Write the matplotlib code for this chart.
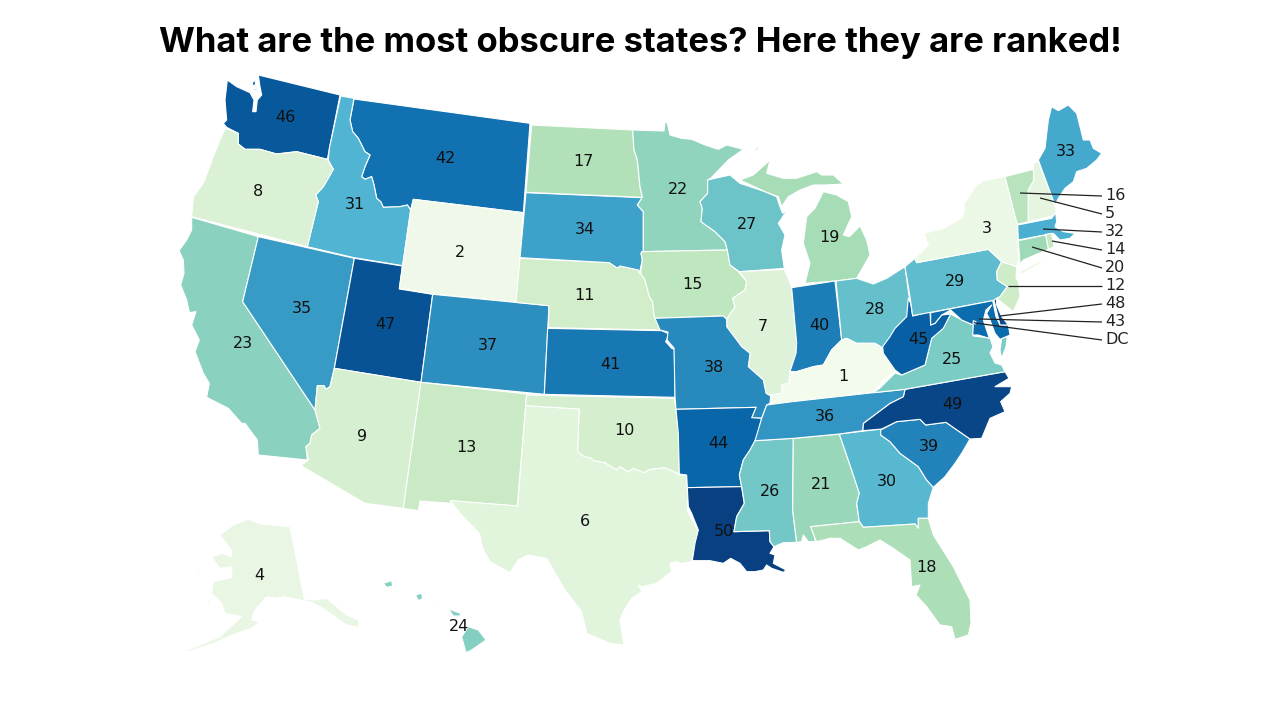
import matplotlib
matplotlib.use("Agg")
import matplotlib.pyplot as plt
from matplotlib.patches import Polygon
from matplotlib.colors import Normalize

plt.rcParams['font.family'] = ['DejaVu Sans']

TITLE = "What are the most obscure states? Here they are ranked!"

RANKS = dict(KY=1, WY=2, NY=3, AK=4, NH=5, TX=6, IL=7, OR=8, AZ=9, OK=10, NE=11, NJ=12, NM=13,
             RI=14, IA=15, VT=16, ND=17, FL=18, MI=19, CT=20, AL=21, MN=22, CA=23, HI=24, VA=25,
             MS=26, WI=27, OH=28, PA=29, GA=30, ID=31, MA=32, ME=33, SD=34, NV=35, TN=36, CO=37,
             MO=38, SC=39, IN=40, KS=41, MT=42, MD=43, AR=44, WV=45, WA=46, UT=47, DE=48, NC=49,
             LA=50, DC=51)

LABEL_AT = dict(AL=(821,484), AK=(259,575), AZ=(362,436), AR=(718,443), CA=(243,343), CO=(488,345),
                FL=(926,567), GA=(887,481), HI=(459,626), ID=(355,204), IL=(763,326), IN=(819,325),
                IA=(692,284), KS=(610,364), KY=(843,376), LA=(724,531), ME=(1066,151), MI=(829,237),
                MN=(678,189), MS=(770,491), MO=(714,367), MT=(445,158), NE=(585,295), NV=(302,308),
                NM=(466,447), NY=(987,228), NC=(952,404), ND=(583,161), OH=(875,309), OK=(624,430),
                OR=(258,191), PA=(955,281), SC=(929,446), SD=(585,229), TN=(825,416), TX=(585,521),
                UT=(385,324), VA=(952,359), WA=(285,117), WV=(918,339), WI=(747,224), WY=(460,252))

# name, text x, text y, state anchor x, y
CALLOUTS = [("VT",1105,195,1020,193), ("NH",1105,213,1040,198), ("MA",1105,231,1043,229),
            ("RI",1105,249,1052,241), ("CT",1105,267,1032,247), ("NJ",1105,285,1008,286),
            ("DE",1105,303,1000,316), ("MD",1105,321,979,319), ("DC",1105,339,975,323)]

# crop origins (outlines were traced in 3x enlarged crops)
A=(880,90); B=(170,70); C=(170,500); D=(640,110); E=(660,370); F=(170,210); G=(440,390); H=(510,110)
def tr(o, pts):
    return [(o[0]+x/3, o[1]+y/3) for x,y in pts]

SHAPES = {
 "WA":[tr(B,[(265,15),(510,75),(472,268),(380,245),(320,252),(270,238),(225,238),(205,222),(205,190),(170,172),(160,160),(170,150),(165,90),(172,30),(200,50),(240,68),(252,90),(248,125),(258,125),(262,90),(275,75),(270,50)]),
       tr(B,[(247,38),(256,30),(256,45),(248,46)]), tr(B,[(253,56),(259,55),(258,66)])],
 "MT":[tr(B,[(552,87),(1080,160),(1060,428),(730,388),(722,420),(712,405),(690,410),(640,412),(632,395),(620,385),(612,345),(605,320),(585,328),(575,320),(585,290),(600,255),(585,245),(565,205),(548,185),(540,150)])],
 "ID":[tr(B,[(512,78),(552,85),(540,150),(548,185),(565,205),(585,245),(600,255),(585,290),(575,320),(585,328),(605,320),(612,345),(620,385),(632,395),(640,412),(690,410),(712,405),(722,420),(698,587),(552,563),(412,530),(445,395),(437,375),(460,350),(490,298),(475,270),(478,235)])],
 "OR":[tr(B,[(165,175),(205,190),(205,222),(225,238),(270,238),(320,252),(380,245),(472,268),(490,298),(460,350),(437,375),(445,395),(412,530),(65,440),(70,380),(100,340),(130,260),(150,210)])],
 "CA":[tr(F,[(65,22),(265,80),(218,275),(435,600),(450,655),(425,675),(420,700),(408,710),(412,750),(265,735),(262,690),(225,640),(215,640),(175,595),(110,562),(118,520),(100,490),(75,425),(88,390),(65,345),(78,305),(58,308),(50,270),(32,225),(42,190),(40,150),(27,122),(50,90),(65,60)])],
 "NV":[tr(F,[(265,80),(553,145),(493,475),(480,530),(468,538),(462,527),(442,527),(435,600),(218,275)])],
 "UT":[tr(F,[(553,145),(697,168),(688,237),(788,253),(753,517),(493,475)])],
 "WY":[tr(B,[(730,388),(1060,428),(1040,697),(788,672),(688,655),(722,420)])],
 "CO":[[(432.7,294.3),(549,305.7),(544.3,394.3),(421,382.3)]],
 "AZ":[tr(F,[(493,475),(753,517),(700,895),(585,880),(393,767),(415,750),(408,710),(420,700),(425,675),(450,655),(435,600),(442,527),(462,527),(468,538),(480,530)])],
 "NM":[tr(F,[(753,517),(1070,552),(1042,888),(840,872),(843,880),(750,873),(745,902),(700,895)])],
 "TX":[tr(G,[(257,47),(418,57),(413,185),(430,198),(455,205),(460,212),(495,218),(530,240),(540,230),(565,245),(580,235),(612,248),(630,238),(675,233),(720,255),(740,256),(742,295),(743,365),(775,425),(760,490),(755,515),(725,520),(705,515),(690,520),(695,545),(650,580),(605,590),(595,585),(605,605),(575,625),(550,665),(540,690),(552,765),(510,760),(440,730),(425,665),(375,600),(320,505),(262,495),(235,510),(210,548),(150,515),(130,480),(118,430),(60,370),(32,332),(233,348)])],
 "OK":[tr(G,[(260,15),(703,25),(717,125),(718,252),(675,233),(630,238),(612,248),(580,235),(565,245),(540,230),(530,240),(495,218),(460,212),(455,205),(430,198),(413,185),(418,57),(257,47)])],
 "KS":[tr(H,[(113,655),(455,662),(478,672),(467,695),(485,715),(493,718),(495,862),(103,853)])],
 "NE":[tr(H,[(30,445),(298,458),(322,474),(330,468),(385,480),(392,490),(405,510),(418,560),(428,575),(432,615),(455,660),(115,653),(117,587),(18,577)])],
 "SD":[tr(H,[(48,248),(397,263),(382,285),(400,305),(400,425),(393,430),(397,450),(388,490),(385,480),(330,468),(322,474),(298,458),(30,443)])],
 "ND":[tr(H,[(65,45),(368,60),(372,120),(382,150),(390,230),(397,262),(48,247)])],
 "MN":[tr(H,[(368,60),(462,63),(465,35),(472,40),(480,75)]) + tr(D,[(125,85),(155,88),(195,105),(235,118),(260,105),(310,118),(265,150),(212,205),(203,210),(203,250),(180,275),(187,295),(183,335),(225,365),(255,395),(262,420)]) + tr(H,[(400,425),(400,305),(382,285),(397,262),(390,230),(382,150),(372,120)])],
 "IA":[tr(D,[(5,425),(262,420),(270,465),(295,485),(320,515),(315,540),(278,565),(285,590),(260,628),(250,618),(45,625)]) + tr(H,[(432,615),(428,575),(418,560),(405,510),(392,490),(397,450),(393,430)])],
 "WI":[tr(D,[(203,210),(270,195),(300,220),(375,245),(410,260),(418,285),(428,310),(445,295),(415,340),(435,375),(425,420),(433,475),(298,485),(270,465),(262,420),(255,395),(225,365),(183,335),(187,295),(180,275),(203,250)])],
 "MI":[tr(D,[(300,210),(340,195),(390,150),(380,190),(430,205),(470,205),(530,185),(545,195),(580,195),(610,222),(555,225),(520,225),(480,240),(445,260),(425,290),(415,260),(375,245)]),
       tr(D,[(495,520),(510,460),(490,400),(500,320),(525,295),(550,245),(590,255),(625,275),(635,320),(610,375),(628,380),(660,348),(680,390),(690,435),(650,505),(590,513)]),
       tr(D,[(342,120),(365,105),(350,122)])],
 "IL":[tr(D,[(298,485),(433,478),(455,530),(470,700),(468,730),(450,785),(447,820),(425,825),(425,850),(393,855),(378,850),(370,810),(325,770),(330,730),(305,710),(260,650),(260,628),(285,590),(278,565),(315,540),(320,515)])],
 "IN":[tr(D,[(455,533),(585,513),(605,690),(575,720),(550,765),(520,770),(470,785),(450,785),(468,730),(470,700)])],
 "OH":[tr(D,[(588,513),(650,505),(700,522),(740,505),(795,470),(808,565),(802,620),(770,650),(745,700),(735,718),(705,700),(650,700),(620,685),(605,690)])],
 "KY":[tr(D,[(605,690),(620,685),(650,700),(705,700),(735,718),(768,785),(730,810),(700,847),(455,875),(455,885),(395,885),(393,855),(425,850),(425,825),(447,820),(450,785),(470,785),(520,770),(550,765),(575,720)])],
 "MO":[[(655,318.3),(723.3,316),(726.7,319.3),(726.7,326.7),(741.7,346.7),(750,353.3),(748.3,366.7),(763.3,380),(766,393.3),(770.7,396),(770,403.3),(766.7,405),(761.7,418.3),(751.7,417.7),(756,407.3),(676,409.3),(675,396.7),(674,348),(667,340),(668,332),(660,330)]],
 "AR":[tr(E,[(48,118),(288,112),(275,143),(305,145),(290,205),(270,240),(250,270),(238,315),(245,350),(82,353),(80,315),(58,312),(55,190)])],
 "LA":[tr(E,[(82,353),(245,350),(253,400),(230,440),(222,485),(328,482),(330,515),(342,530),(330,550),(345,555),(340,580),(378,600),(370,607),(335,595),(320,585),(310,600),(285,605),(260,605),(240,580),(212,565),(190,580),(150,572),(97,572),(105,520),(115,480),(95,430),(85,410)])],
 "MS":[tr(E,[(285,212),(400,205),(398,420),(410,517),(370,518),(342,530),(330,515),(328,482),(222,485),(230,440),(253,400),(245,350),(238,315),(250,270),(270,240)])],
 "AL":[tr(E,[(400,205),(538,192),(575,300),(598,370),(590,400),(598,455),(452,470),(465,505),(465,515),(445,515),(430,495),(425,515),(410,517),(398,420)])],
 "GA":[tr(E,[(538,192),(665,177),(662,195),(690,215),(720,250),(775,290),(800,330),(820,352),(805,400),(805,445),(775,445),(775,475),(765,462),(610,472),(598,455),(590,400),(598,370),(575,300)])],
 "FL":[tr(E,[(452,470),(598,455),(610,472),(765,462),(775,475),(775,445),(805,445),(820,495),(880,590),(930,690),(933,760),(925,795),(885,808),(875,770),(840,765),(800,710),(768,675),(780,645),(755,650),(750,570),(700,535),(660,510),(620,530),(595,540),(540,505),(510,505),(470,515),(465,505)])],
 "SC":[tr(E,[(662,180),(710,155),(780,148),(797,165),(858,157),(930,207),(905,250),(885,280),(855,320),(820,352),(800,330),(775,290),(720,250),(690,215),(662,195)])],
 "NC":[tr(E,[(735,58),(1035,5),(1047,25),(1005,50),(1055,50),(1050,70),(1022,95),(1035,125),(990,145),(965,205),(930,207),(858,157),(797,165),(780,148),(710,155),(665,177),(608,182),(610,160),(650,130),(690,100),(730,80)])],
 "TN":[tr(E,[(320,105),(397,95),(640,68),(735,58),(730,80),(690,100),(650,130),(610,160),(608,182),(538,192),(400,205),(285,212),(305,145)])],
 "VA":[[(873.3,392.7),(880,388),(895,373),(901.7,375),(925,365),(931.7,338),(943,328),(950.7,314),(961.7,320),(973.3,325),(973.3,336),(990,338),(993,346.7),(990,353),(995,363),(1001.7,365),(1005,371.7),(905,389.3)],
       tr(A,[(382,740),(378,770),(365,805),(360,780),(365,745)])],
 "WV":[tr(A,[(85,625),(80,680),(45,715),(30,740),(8,770),(10,790),(45,840),(65,855),(135,825),(155,745),(190,715),(212,672),(185,675),(165,700),(152,705),(150,665),(98,678),(92,640)])],
 "PA":[tr(A,[(75,530),(105,505),(110,518),(325,478),(365,515),(350,545),(352,570),(382,590),(360,620),(338,632),(98,677),(90,620)])],
 "MD":[tr(A,[(152,668),(338,632),(348,680),(360,705),(385,705),(390,735),(360,748),(345,730),(330,690),(320,670),(335,645),(318,660),(310,690),(328,745),(295,735),(278,735),(280,705),(245,690),(212,660),(185,675),(165,700),(152,705)])],
 "DE":[tr(A,[(342,630),(350,625),(350,645),(365,680),(385,705),(360,705)])],
 "DC":[tr(A,[(280,692),(288,695),(286,702),(279,700)])],
 "NJ":[tr(A,[(365,515),(410,530),(408,565),(415,575),(420,620),(400,665),(350,625),(360,620),(382,590),(352,570),(350,545)])],
 "NY":[tr(A,[(110,518),(105,505),(145,465),(132,430),(190,415),(245,385),(255,355),(250,345),(285,290),(310,272),(375,260),(412,400),(415,510),(410,530),(365,515),(325,478)]),
       tr(A,[(410,550),(495,505),(480,520),(430,550)])],
 "VT":[tr(A,[(375,260),(460,238),(462,270),(445,300),(445,395),(412,403)])],
 "NH":[tr(A,[(460,220),(475,215),(525,345),(530,375),(445,395),(445,300),(462,270),(460,238)])],
 "ME":[tr(A,[(515,50),(535,62),(565,45),(590,70),(610,150),(630,150),(640,175),(665,190),(650,210),(620,235),(590,245),(580,275),(555,295),(535,325),(525,345),(475,210),(495,175),(505,90)])],
 "MA":[tr(A,[(413,405),(515,385),(527,368),(530,395),(525,410),(550,425),(585,430),(570,445),(540,450),(520,430),(415,450)])],
 "RI":[tr(A,[(497,433),(515,430),(522,470),(505,478)])],
 "CT":[tr(A,[(415,452),(497,435),(505,478),(430,510),(420,522)])],
 "HI":[tr(C,[(640,250),(665,242),(668,258),(650,262)]), tr(C,[(737,285),(755,280),(758,295),(745,302)]),
       tr(C,[(795,310),(810,310),(805,315)]), tr(C,[(835,325),(850,332),(872,340),(870,348),(850,348)]),
       tr(C,[(895,380),(925,390),(948,420),(905,450),(888,458),(875,410)])],
 "AK":[tr(C,[(235,57),(270,72),(360,80),(403,297),(430,300),(470,295),(530,345),(565,360),(568,383),(530,375),(480,340),(450,320),(420,305),(400,302),(340,290),(320,295),(290,290),(255,330),(245,360),(270,365),(245,385),(200,400),(175,410),(130,430),(70,450),(20,462),(90,435),(150,410),(215,350),(165,340),(155,310),(125,280),(130,245),(185,232),(185,200),(150,205),(125,172),(155,160),(185,170),(185,150),(150,105),(190,75)]),
       tr(C,[(105,300),(118,298),(120,308)]), tr(C,[(75,210),(95,220),(90,225)])],
}

fig = plt.figure(figsize=(12.8, 7.2), dpi=100)
ax = fig.add_axes([0, 0, 1, 1])
ax.set_xlim(0, 1280); ax.set_ylim(720, 0); ax.axis("off")

cmap = plt.get_cmap("GnBu")
norm = Normalize(0, 50)
for st, polys in SHAPES.items():
    for p in polys:
        ax.add_patch(Polygon(p, closed=True, facecolor=cmap(norm(RANKS[st])), edgecolor="white",
                             linewidth=0.8, joinstyle="round", zorder=2))

for st, (x, y) in LABEL_AT.items():
    ax.text(x, y + 0.5, str(RANKS[st]), ha="center", va="center", fontsize=11.5, color="#111111", zorder=4)

for st, tx, ty, ax0, ay0 in CALLOUTS:
    ax.plot([ax0, tx-3], [ay0, ty+1], color="#222222", lw=0.9, zorder=3, solid_capstyle="butt")
    ax.text(tx, ty + 0.5, "DC" if st == "DC" else str(RANKS[st]), ha="left", va="center", fontsize=11.5,
            color="#222222", zorder=4)

ax.text(640, 43, TITLE, ha="center", va="center", fontsize=24.9, fontweight="bold", color="black",
        family=["Inter", "DejaVu Sans"])

fig.savefig("out.png", dpi=100)
